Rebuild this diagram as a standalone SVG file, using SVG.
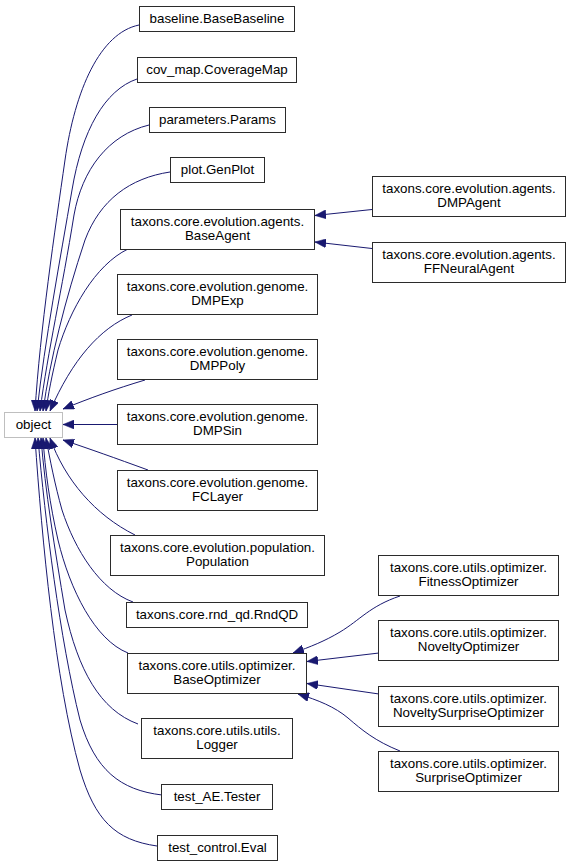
<svg xmlns="http://www.w3.org/2000/svg" width="571" height="867" viewBox="0 0 571 867">
<style>
.node rect{fill:#fff;stroke:#2b2b2b;stroke-width:1}
.ext rect{fill:#fff;stroke:#bfbfbf;stroke-width:1}
text{font-family:"Liberation Sans",Arial,sans-serif;font-size:13.33px;text-anchor:middle;fill:#000}
#edges path{fill:none;stroke:#191970;stroke-width:1;marker-end:url(#arr)}
</style>
<defs>
<marker id="arr" viewBox="0 0 11 9" refX="11" refY="4.5" markerWidth="11" markerHeight="9" markerUnits="userSpaceOnUse" orient="auto">
<path d="M0,0 L11,4.5 L0,9 z" fill="#191970" stroke="#191970" stroke-width="0.5"/>
</marker>
</defs>
<rect width="571" height="867" fill="#fff"/>
<g id="edges">
<path d="M139,25 C100,33 75,90 65,160 C55,230 40,330 35,411"/>
<path d="M137,79 C105,90 82,130 72,190 C60,260 45,340 37,411"/>
<path d="M149,125 C108,135 82,170 74,215 C62,290 48,350 40,411"/>
<path d="M170,172 C130,178 100,200 85,240 C65,300 50,360 43,411"/>
<path d="M128,249 C95,265 70,310 58,350 C52,375 48,395 46,411"/>
<path d="M132,315 C100,328 72,360 50,411"/>
<path d="M145,380 C115,389 90,398 63,409"/>
<path d="M117,424.5 L63,424.5"/>
<path d="M148,470 C115,458 90,449 63,440"/>
<path d="M135,535 C95,515 65,480 50,438"/>
<path d="M133,602 C100,590 75,550 62,510 C55,485 50,460 46,438"/>
<path d="M128,653 C95,640 70,590 58,540 C50,505 45,470 43,438"/>
<path d="M138,724 C100,710 78,670 65,610 C55,550 45,490 41,438"/>
<path d="M162,795 C120,790 95,770 80,720 C60,640 45,520 38,438"/>
<path d="M157,846 C115,840 95,820 80,770 C55,680 42,540 35,438"/>
<path d="M372,209.5 L315,215.5"/>
<path d="M372,248.5 L315,242"/>
<path d="M400,596 C370,606 360,620 340,632 C325,641 310,647 293,653"/>
<path d="M379,653 L307,661.5"/>
<path d="M379,694 L307,683.5"/>
<path d="M400,751 C375,741 362,730 348,718 C335,707 318,700 298,694"/>
</g>
<g id="object" class="ext"><rect x="4.5" y="412.5" width="58" height="25"/><text x="33.5" y="429">object</text></g>
<g id="baseline" class="node"><rect x="139.5" y="6.5" width="155" height="25"/><text x="217" y="22.5">baseline.BaseBaseline</text></g>
<g id="cov_map" class="node"><rect x="137.5" y="57.5" width="159" height="25"/><text x="217" y="73.5">cov_map.CoverageMap</text></g>
<g id="parameters" class="node"><rect x="149.5" y="107.5" width="136" height="25"/><text x="217.5" y="123.5">parameters.Params</text></g>
<g id="plot" class="node"><rect x="170.5" y="157.5" width="94" height="25"/><text x="217.5" y="173.5">plot.GenPlot</text></g>
<g id="BaseAgent" class="node"><rect x="120.5" y="209.5" width="194" height="40"/><text x="217.5" y="226">taxons.core.evolution.agents.</text><text x="217.5" y="240">BaseAgent</text></g>
<g id="DMPExp" class="node"><rect x="117.5" y="274.5" width="200" height="40"/><text x="217.5" y="291">taxons.core.evolution.genome.</text><text x="217.5" y="305">DMPExp</text></g>
<g id="DMPPoly" class="node"><rect x="117.5" y="339.5" width="200" height="40"/><text x="217.5" y="356">taxons.core.evolution.genome.</text><text x="217.5" y="370">DMPPoly</text></g>
<g id="DMPSin" class="node"><rect x="117.5" y="404.5" width="200" height="40"/><text x="217.5" y="421">taxons.core.evolution.genome.</text><text x="217.5" y="435">DMPSin</text></g>
<g id="FCLayer" class="node"><rect x="117.5" y="470.5" width="200" height="40"/><text x="217.5" y="487">taxons.core.evolution.genome.</text><text x="217.5" y="501">FCLayer</text></g>
<g id="Population" class="node"><rect x="110.5" y="535.5" width="214" height="40"/><text x="217.5" y="552">taxons.core.evolution.population.</text><text x="217.5" y="566">Population</text></g>
<g id="RndQD" class="node"><rect x="126.5" y="602.5" width="181" height="25"/><text x="217" y="618.5">taxons.core.rnd_qd.RndQD</text></g>
<g id="BaseOptimizer" class="node"><rect x="127.5" y="653.5" width="179" height="40"/><text x="217" y="670">taxons.core.utils.optimizer.</text><text x="217" y="684">BaseOptimizer</text></g>
<g id="Logger" class="node"><rect x="141.5" y="718.5" width="151" height="40"/><text x="217" y="735">taxons.core.utils.utils.</text><text x="217" y="749">Logger</text></g>
<g id="Tester" class="node"><rect x="161.5" y="784.5" width="111" height="25"/><text x="217" y="800.5">test_AE.Tester</text></g>
<g id="Eval" class="node"><rect x="157.5" y="835.5" width="120" height="25"/><text x="217.5" y="851.5">test_control.Eval</text></g>
<g id="DMPAgent" class="node"><rect x="372.5" y="176.5" width="193" height="40"/><text x="469" y="193">taxons.core.evolution.agents.</text><text x="469" y="207">DMPAgent</text></g>
<g id="FFNeuralAgent" class="node"><rect x="372.5" y="242.5" width="193" height="40"/><text x="469" y="259">taxons.core.evolution.agents.</text><text x="469" y="273">FFNeuralAgent</text></g>
<g id="FitnessOptimizer" class="node"><rect x="378.5" y="555.5" width="180" height="40"/><text x="468.5" y="572">taxons.core.utils.optimizer.</text><text x="468.5" y="586">FitnessOptimizer</text></g>
<g id="NoveltyOptimizer" class="node"><rect x="378.5" y="620.5" width="180" height="40"/><text x="468.5" y="637">taxons.core.utils.optimizer.</text><text x="468.5" y="651">NoveltyOptimizer</text></g>
<g id="NoveltySurpriseOptimizer" class="node"><rect x="378.5" y="686.5" width="180" height="40"/><text x="468.5" y="703">taxons.core.utils.optimizer.</text><text x="468.5" y="717">NoveltySurpriseOptimizer</text></g>
<g id="SurpriseOptimizer" class="node"><rect x="378.5" y="751.5" width="180" height="40"/><text x="468.5" y="768">taxons.core.utils.optimizer.</text><text x="468.5" y="782">SurpriseOptimizer</text></g>
</svg>
